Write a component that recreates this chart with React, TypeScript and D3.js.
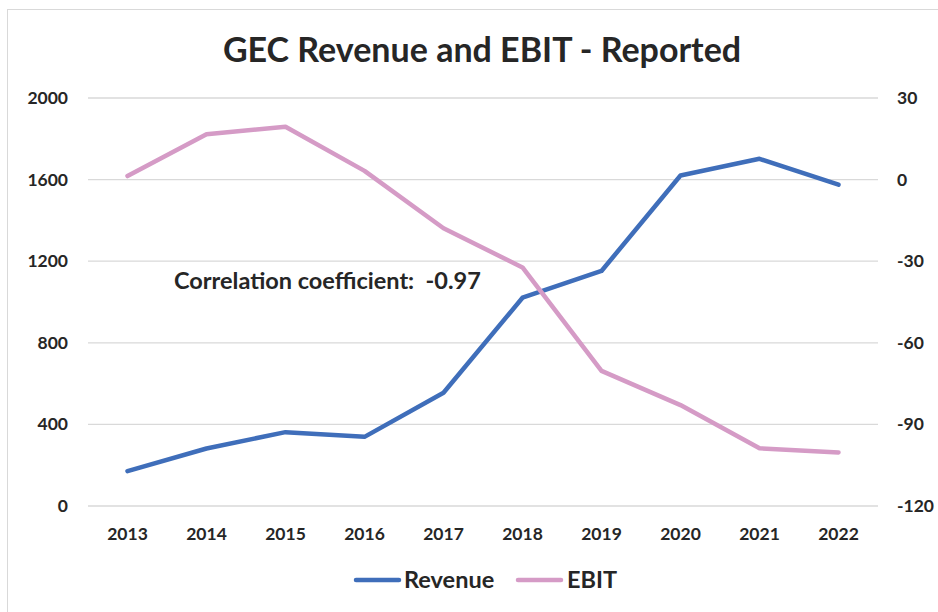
import { useEffect } from 'react'
import * as d3 from 'd3'

const years = ['2013', '2014', '2015', '2016', '2017', '2018', '2019', '2020', '2021', '2022']
const revenue = [171, 282, 362, 339, 555, 1021, 1152, 1620, 1702, 1575]
const ebit = [1.3, 16.7, 19.4, 3.2, -17.9, -32.3, -70.3, -82.9, -98.8, -100.3]
const leftTicks = [0, 400, 800, 1200, 1600, 2000]
const rightTicks = [-120, -90, -60, -30, 0, 30]

const W = 938
const H = 612
const X0 = 88
const X1 = 878
const YT = 98
const YB = 506
const FONT = 'Lato, "Open Sans", sans-serif'
const INK = '#262626'
const BLUE = '#3F6EBA'
const PINK = '#D59BC6'

export default function App() {
  useEffect(() => {
    document.body.style.margin = '0'
  }, [])

  const x = d3.scalePoint<string>().domain(years).range([X0, X1]).padding(0.5)
  const yL = d3.scaleLinear().domain([0, 2000]).range([YB, YT])
  const yR = d3.scaleLinear().domain([-120, 30]).range([YB, YT])

  const revLine = d3.line<number>()
    .x((_, i) => x(years[i]) ?? 0)
    .y((d) => yL(d))
  const ebitLine = d3.line<number>()
    .x((_, i) => x(years[i]) ?? 0)
    .y((d) => yR(d))

  return (
    <svg width={W} height={H} style={{ display: 'block', background: '#fff' }} fontFamily={FONT}>
      <rect x={7.5} y={9.5} width={W} height={H} fill="#fff" stroke="#d9d9d9" strokeWidth={1} />

      <text x={482} y={62} textAnchor="middle" fontSize={34} fontWeight={700} fill={INK}>
        GEC Revenue and EBIT - Reported
      </text>

      {/* gridlines + left axis labels */}
      {leftTicks.map((t) => (
        <g key={t}>
          <line x1={X0} x2={X1} y1={yL(t)} y2={yL(t)} stroke="#d9d9d9" strokeWidth={1.3} />
          <text x={68} y={yL(t) + 6} textAnchor="end" fontSize={17.5} fontWeight={700} fill={INK}>
            {t}
          </text>
        </g>
      ))}

      {/* right axis labels */}
      {rightTicks.map((t) => (
        <text key={t} x={897} y={yR(t) + 6} textAnchor="start" fontSize={17.5} fontWeight={700} fill={INK}>
          {t}
        </text>
      ))}

      {/* x axis labels */}
      {years.map((yr) => (
        <text key={yr} x={x(yr)} y={540} textAnchor="middle" fontSize={17.5} fontWeight={700} fill={INK}>
          {yr}
        </text>
      ))}

      <path d={revLine(revenue) ?? ''} fill="none" stroke={BLUE} strokeWidth={4.5} strokeLinejoin="round" strokeLinecap="round" />
      <path d={ebitLine(ebit) ?? ''} fill="none" stroke={PINK} strokeWidth={4.5} strokeLinejoin="round" strokeLinecap="round" />

      <text x={174} y={289} fontSize={23.5} fontWeight={700} fill={INK} style={{ whiteSpace: 'pre' }}>
        {'Correlation coefficient:  -0.97'}
      </text>

      {/* legend */}
      <line x1={356} x2={399} y1={580} y2={580} stroke={BLUE} strokeWidth={4.5} strokeLinecap="round" />
      <text x={404} y={588} fontSize={23.5} fontWeight={700} fill={INK}>Revenue</text>
      <line x1={518} x2={561} y1={580} y2={580} stroke={PINK} strokeWidth={4.5} strokeLinecap="round" />
      <text x={567} y={588} fontSize={23.5} fontWeight={700} fill={INK}>EBIT</text>
    </svg>
  )
}
